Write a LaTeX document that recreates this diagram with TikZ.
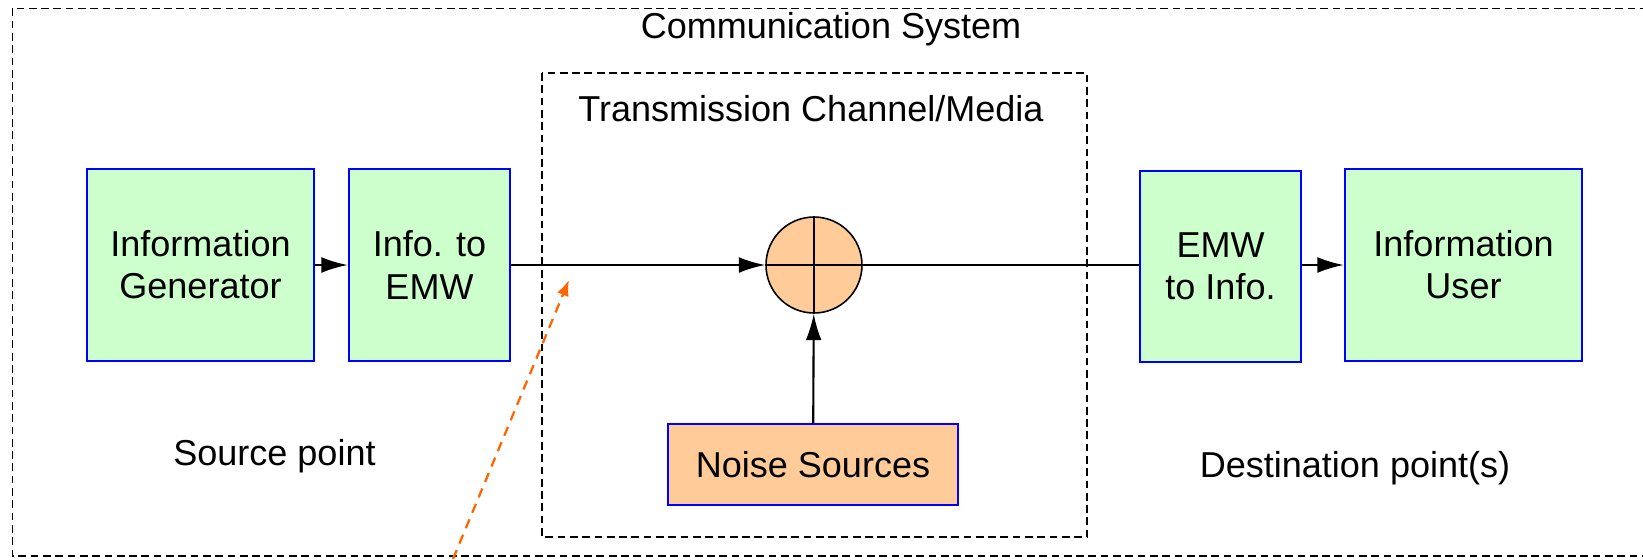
\documentclass[tikz,border=0pt]{standalone}
\usepackage{fontspec}
\setmainfont{Liberation Sans}
\usetikzlibrary{arrows.meta,positioning}
\definecolor{boxgreen}{HTML}{CCFFCC}
\definecolor{noiseorange}{HTML}{FFCC99}
\definecolor{pointerorange}{HTML}{FF6600}
\tikzset{
	block/.style={draw=blue,line width=1.4pt,fill=boxgreen,align=center,inner sep=0pt,minimum height=3.84cm},
	frame/.style={draw,line width=0.7pt,dash pattern=on 4.4pt off 2.6pt},
	link/.style={line width=1.2pt,-{Latex[length=15pt,width=9pt]}},
	pointer/.style={draw=pointerorange,line width=1.3pt,dash pattern=on 5.5pt off 4pt,-{Latex[length=9pt,width=7pt]}}
}
\begin{document}
\begin{tikzpicture}[x=0.02cm,y=-0.02cm,font=\fontsize{20.5}{24}\selectfont]
\useasboundingbox (0,0) rectangle (1643,559);
% the two dashed frames
\draw[frame] (12.6,8.4) rectangle (1660,556);
\draw[frame] (542,73) rectangle (1087,537);
\node (systitle) at (831,29) {Communication System};
\node (chantitle) at (811,109) {Transmission Channel/Media};
% transmitter side
\node[block,minimum width=4.54cm] (infogen) at (200.5,265) {Information\\Generator};
\node[block,minimum width=3.22cm] (infoemw) at (429.5,265) {Info. to\\EMW};
\node (srcpt) at (274.5,456) {Source point};
% channel: adder and noise
\node[circle,draw,line width=0.9pt,fill=noiseorange,minimum size=1.92cm] (adder) at (814,265) {};
\draw[line width=0.9pt] (adder.north) -- (adder.south);
\draw[line width=0.9pt] (adder.west) -- (adder.east);
\node[block,fill=noiseorange,minimum width=5.8cm,minimum height=1.62cm] (noise) at (813,464.5) {Noise Sources};
% receiver side
\node[block,minimum width=3.22cm,minimum height=3.82cm] (emwinfo) at (1220.5,266.5) {EMW\\to Info.};
\node[block,minimum width=4.74cm] (infouser) at (1463.5,265) {Information\\User};
\node (dstpt) at (1355,468) {Destination point(s)};
% connectors
\draw[link] (infogen) -- (infoemw);
\draw[link] (infoemw.east) -- (adder.west);
\draw[link] (noise) -- (adder);
\draw[line width=1.2pt] (adder.east) -- (emwinfo.west |- adder.east);
\draw[link] (emwinfo.east |- infouser.west) -- (infouser.west);
% pointer into the channel
\coordinate (ptail) at (453,559);
\coordinate (phead) at (569,280);
\draw[pointer] (ptail) -- (phead);
\end{tikzpicture}
\end{document}
